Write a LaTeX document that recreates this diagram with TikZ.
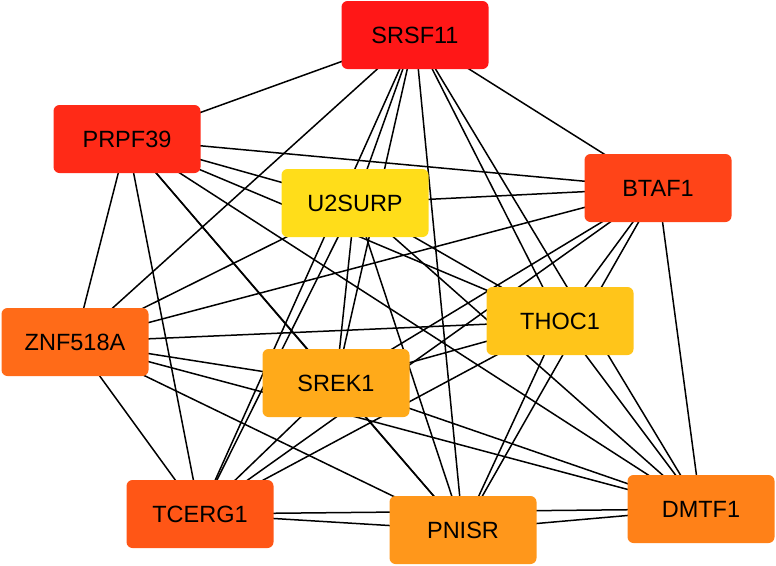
\documentclass[tikz,border=0pt]{standalone}
\usepackage{fontspec}
\setmainfont{Liberation Sans}
\usetikzlibrary{backgrounds}
\definecolor{cSRSF}{HTML}{FF1717}
\definecolor{cPRPF}{HTML}{FF2A17}
\definecolor{cBTAF}{HTML}{FF4418}
\definecolor{cTCERG}{HTML}{FF5616}
\definecolor{cZNF}{HTML}{FF6B18}
\definecolor{cDMTF}{HTML}{FF8118}
\definecolor{cPNISR}{HTML}{FF971B}
\definecolor{cSREK}{HTML}{FFAA1A}
\definecolor{cTHOC}{HTML}{FFC51A}
\definecolor{cU2S}{HTML}{FFDD1A}
\begin{document}
\begin{tikzpicture}[x=1pt,y=-1pt,font=\fontsize{23.5}{28}\selectfont,
  gene/.style={rectangle,rounded corners=6pt,minimum width=147pt,minimum height=68pt,inner sep=0pt,text=black},
  link/.style={black,line width=1.5pt}]
  \useasboundingbox (0,0) rectangle (776,565);
  % genes
  \node[gene,fill=cSRSF]  (srsf) at (415,35)  {SRSF11};
  \node[gene,fill=cPRPF]  (prpf) at (127,139) {PRPF39};
  \node[gene,fill=cU2S]   (u2s)  at (355,203) {U2SURP};
  \node[gene,fill=cBTAF]  (btaf) at (658,188) {BTAF1};
  \node[gene,fill=cZNF]   (znf)  at (75,342)  {ZNF518A};
  \node[gene,fill=cTHOC]  (thoc) at (560,321) {THOC1};
  \node[gene,fill=cSREK]  (srek) at (336,383) {SREK1};
  \node[gene,fill=cTCERG] (tcerg) at (200,514) {TCERG1};
  \node[gene,fill=cPNISR] (pnisr) at (463,530) {PNISR};
  \node[gene,fill=cDMTF]  (dmtf) at (701,509) {DMTF1};
  % every pair is linked
  \begin{scope}[on background layer]
    \foreach \a [count=\i] in {srsf,prpf,u2s,btaf,znf,thoc,srek,tcerg,pnisr,dmtf}{
      \foreach \b [count=\j] in {srsf,prpf,u2s,btaf,znf,thoc,srek,tcerg,pnisr,dmtf}{
        \ifnum\j>\i \draw[link] (\a.center) -- (\b.center); \fi}}
  \end{scope}
\end{tikzpicture}
\end{document}
